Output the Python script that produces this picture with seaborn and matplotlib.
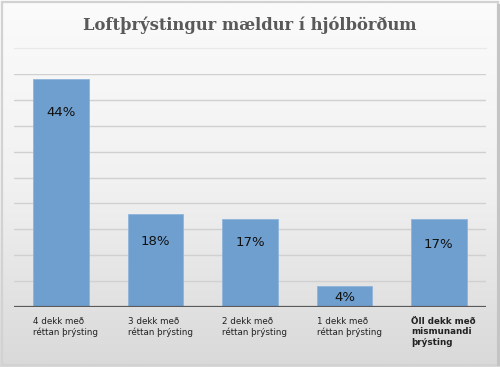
import numpy as np
import seaborn as sns
import matplotlib.pyplot as plt
from matplotlib.colors import LinearSegmentedColormap
from matplotlib.patches import Rectangle

categories = ["4 dekk með\nréttan þrýsting", "3 dekk með\nréttan þrýsting",
              "2 dekk með\nréttan þrýsting", "1 dekk með\nréttan þrýsting",
              "Öll dekk með\nmismunandi\nþrýsting"]
values = [44, 18, 17, 4, 17]
value_labels = ["44%", "18%", "17%", "4%", "17%"]
label_drop_px = [33, 28, 24, 11, 26]

sns.set_theme(style="white")
plt.rcParams["font.family"] = ["DejaVu Sans"]

W, H = 500, 367
fig = plt.figure(figsize=(W / 100, H / 100), dpi=100)

# gradient background in a frame, light at the top, grey at the bottom
bg = fig.add_axes([0, 0, 1, 1], zorder=-10)
grad = np.linspace(0, 1, 256).reshape(-1, 1)
cmap = LinearSegmentedColormap.from_list("g", ["#fbfbfb", "#f1f1f1", "#d9d9d9"])
bg.imshow(grad, aspect="auto", cmap=cmap, extent=[0, W, H, 0])
bg.set_xlim(0, W)
bg.set_ylim(H, 0)
bg.add_patch(Rectangle((1.5, 1.5), W - 4, H - 4, fill=False, edgecolor="#d2d2d2", lw=1.6))
bg.add_patch(Rectangle((W - 3, 4), 2.5, H - 5, color="#c4c4c4", lw=0))
bg.plot([14, 486], [48, 48], color="#e9e9e9", lw=1)
bg.axis("off")

ax = fig.add_axes([14 / W, 1 - 307 / H, 472 / W, (307 - 74) / H])
ax.patch.set_alpha(0)
sns.barplot(x=list(range(len(values))), y=values, color="#6f9fcf", saturation=1,
            width=0.59, edgecolor="#8fb4db", linewidth=0.6, ax=ax, zorder=3)
ax.set_ylim(0, 45)
ax.set_xlim(-0.5, len(values) - 0.5)
for yv in range(5, 50, 5):
    ax.axhline(yv, color="#d0d0d0", lw=1, zorder=1)
ax.axhline(0, color="#5a5a5a", lw=1.6, zorder=4)
ax.set_xticks([])
ax.set_yticks([])
for s in ax.spines.values():
    s.set_visible(False)

for i, (v, lab, d) in enumerate(zip(values, value_labels, label_drop_px)):
    ax.annotate(lab, (i, v), xytext=(0, -d * 0.72), textcoords="offset points",
                ha="center", va="center", fontsize=9.5, color="#111111", zorder=5)
    ax.annotate(categories[i], (i - 0.295, 0), xytext=(0, -7.5), textcoords="offset points",
                ha="left", va="top", fontsize=6.3, color="#222222", linespacing=1.15,
                fontweight="bold" if i == len(values) - 1 else "normal", annotation_clip=False)

fig.text(0.5, 1 - 25 / H, "Loftþrýstingur mældur í hjólbörðum", ha="center", va="center",
         fontsize=11.8, fontweight="bold", color="#595959", family=["DejaVu Serif"])

fig.savefig("out.png", dpi=100)
